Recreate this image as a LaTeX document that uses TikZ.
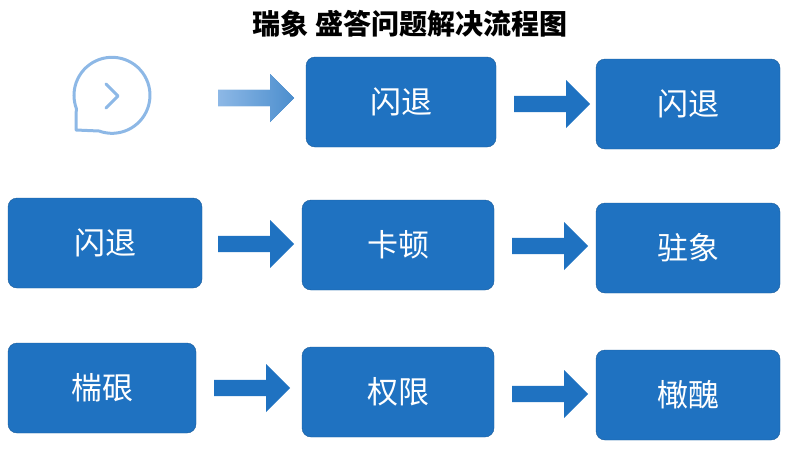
\documentclass[tikz,border=0pt]{standalone}
\usepackage{fontspec}
\newfontfamily\cjk{Noto Sans CJK SC}
\usetikzlibrary{shapes.arrows}
\definecolor{boxblue}{HTML}{1F72C1}
\definecolor{iconblue}{HTML}{8DB8E6}
\tikzset{
  box/.style={draw=boxblue!80!black, fill=boxblue, rounded corners=9pt, minimum width=190pt, minimum height=90pt, text=white, font=\cjk\fontsize{31}{36}\selectfont},
  barrow/.style={single arrow, fill=boxblue, draw=none, minimum width=48pt, minimum height=76pt, single arrow head extend=12pt, single arrow tip angle=90, inner sep=6pt, anchor=center}
}
\begin{document}
\begin{tikzpicture}[x=1pt,y=-1pt]
  \useasboundingbox (0,0) rectangle (800,450);
  \node (title) at (410,24) {\cjk\bfseries\fontsize{28}{32}\selectfont 瑞象\ 盛答问题解决流程图};

  % row 1
  \draw[iconblue, line width=3pt, line join=round] (76,130) -- (99,131) arc[start angle=250, end angle=560, radius=38pt] -- cycle;
  \draw[iconblue, line width=3pt, line cap=round, line join=round] (106,84) -- (118,96) -- (106,108);
  \node (a2) [box] at (401,102) {闪退};
  \node (a3) [box, minimum width=184pt] at (688,104) {闪退};
  \node (ar1) [barrow, left color=iconblue, right color=boxblue!80] at (252,98) {};
  \node (ar2) [barrow] at (548,104) {};

  % row 2
  \node (b1) [box, minimum width=194pt] at (105,243) {闪退};
  \node (b2) [box, minimum width=192pt] at (398,245) {卡顿};
  \node (b3) [box, minimum width=184pt] at (688,248) {驻象};
  \node (br1) [barrow] at (252,244) {};
  \node (br2) [barrow] at (546,246) {};

  % row 3
  \node (c1) [box, minimum width=188pt] at (102,388) {椯硍};
  \node (c2) [box, minimum width=192pt] at (398,392) {权限};
  \node (c3) [box, minimum width=184pt] at (688,395) {橄醜};
  \node (cr1) [barrow] at (248,388) {};
  \node (cr2) [barrow] at (546,394) {};
\end{tikzpicture}
\end{document}
